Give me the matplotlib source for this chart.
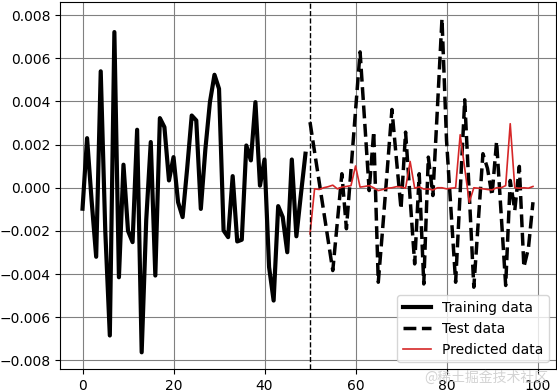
import matplotlib
matplotlib.use("Agg")
import matplotlib.pyplot as plt
import numpy as np

train_x = list(range(0, 50))
train_y = [
    -0.00097, 0.0023, -0.0006, -0.0032, 0.0054, -0.0020, -0.00685, 0.00722, -0.00415, 0.00107,
    -0.0020, -0.00252, 0.00269, -0.00763, -0.0015, 0.00212, -0.00407, 0.00323, 0.00281, 0.00034,
    0.00142, -0.00067, -0.00136, 0.0009, 0.00335, 0.00312, -0.00098, 0.00179, 0.00397, 0.00524,
    0.00459, -0.00198, -0.00229, 0.00054, -0.00249, -0.00241, 0.00196, 0.00127, 0.00397, 0.0001,
    0.00131, -0.00368, -0.00523, -0.00085, -0.00136, -0.00299, 0.00131, -0.00225, -0.0003, 0.00158,
]

test_x = list(range(50, 100))
test_y = [
    0.00304, 0.00166, 0.00029, -0.00109, -0.00246, -0.00384, -0.0016, 0.00065, -0.0019, 0.00083,
    0.00357, 0.0063, 0.0031, -0.00013, 0.00261, -0.00438, -0.0018, 0.0009, 0.00363, 0.0013,
    -0.00098, 0.00258, -0.0005, -0.00353, 0.00065, -0.00446, 0.00142, -0.00036, 0.0037, 0.00784,
    0.0022, -0.0011, -0.00438, -0.0002, 0.00408, -0.0003, -0.00461, -0.0015, 0.00158, 0.0009,
    -0.00036, 0.00215, -0.0012, -0.00453, 0.00034, -0.00105, 0.00099, -0.00368, -0.0028, -0.00067,
]

pred_y = [
    -0.00214, -0.00005, -0.00008, 0.0, 0.00005, 0.00012, -0.00005, 0.00003, 0.00006, 0.0001,
    0.00101, 0.00003, 0.00006, 0.0001, 0.0, -0.00013, -0.00008, -0.00002, 0.0, 0.00005,
    0.00004, -0.00002, 0.00122, -0.00002, 0.00004, -0.00006, -0.00006, -0.0001, 0.0, 0.0,
    -0.00005, -0.00002, 0.0, 0.00246, 0.0009, -0.00067, 0.0, -0.00002, -0.00005, -0.00008,
    -0.0001, 0.0, 0.0, 0.0001, 0.00297, 0.0, -0.00002, 0.0, -0.00002, 0.00006,
]

split_x = 50

fig = plt.figure(figsize=(5.57, 3.91), dpi=100)
ax = fig.add_axes([60 / 557, 1 - 369 / 391, (555.5 - 60) / 557, (369 - 2) / 391])

ax.plot(train_x, train_y, color="black", linewidth=3, label="Training data")
ax.plot(test_x, test_y, color="black", linestyle="--", linewidth=2.5, label="Test data")
ax.plot(test_x, pred_y, color="#d62728", linewidth=1.2, label="Predicted data")
ax.axvline(split_x, color="black", linestyle="--", linewidth=1)

ax.set_xticks([0, 20, 40, 60, 80, 100])
ax.grid(True, color="gray", linewidth=0.8)
ax.legend(loc="lower right")

fig.text(0.985, 0.035, "@稀土掘金技术社区", ha="right", va="center", fontsize=10,
         color="#c8c8c8", alpha=0.8, family=["Noto Sans CJK SC", "DejaVu Sans"])

fig.savefig("out.png", dpi=100)
